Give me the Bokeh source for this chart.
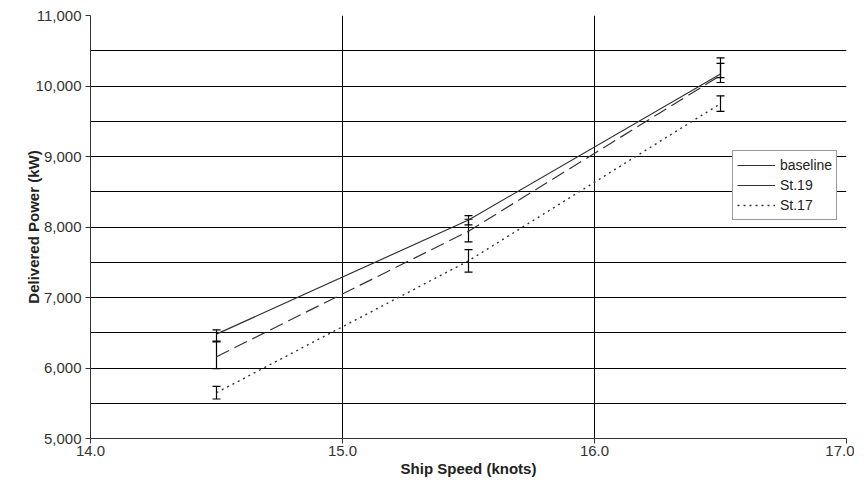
from bokeh.plotting import figure
from bokeh.models import (ColumnDataSource, Whisker, TeeHead, FixedTicker, NumeralTickFormatter,
                          Legend, LegendItem, Range1d)
from bokeh.embed import file_html
from bokeh.resources import INLINE

speed = [14.5, 15.5, 16.5]
baseline = [6480, 8100, 10170]
baseline_lo = [6380, 8030, 10120]
baseline_hi = [6540, 8160, 10400]
st19 = [6160, 7940, 10150]
st19_lo = [5990, 7790, 10050]
st19_hi = [6370, 8110, 10320]
st17 = [5650, 7520, 9750]
st17_lo = [5560, 7360, 9640]
st17_hi = [5740, 7680, 9860]

x_ticks = [14.0, 15.0, 16.0, 17.0]
y_ticks = [5000, 6000, 7000, 8000, 9000, 10000, 11000]
y_grid = [5000, 5500, 6000, 6500, 7000, 7500, 8000, 8500, 9000, 9500, 10000, 10500, 11000]

FONT = "Liberation Sans"
INK = "#222222"

p = figure(frame_width=756, frame_height=423, output_backend="svg", toolbar_location=None,
           x_range=Range1d(14.0, 17.0), y_range=Range1d(5000, 11000),
           min_border_left=90, min_border_top=15, min_border_right=8, min_border_bottom=44)
p.outline_line_color = None
p.background_fill_color = "white"

p.xaxis.ticker = FixedTicker(ticks=x_ticks)
p.yaxis.ticker = FixedTicker(ticks=y_ticks)
p.xgrid.ticker = FixedTicker(ticks=x_ticks)
p.ygrid.ticker = FixedTicker(ticks=y_grid)
p.xaxis.formatter = NumeralTickFormatter(format="0.0")
p.yaxis.formatter = NumeralTickFormatter(format="0,0")
for g in (p.xgrid, p.ygrid):
    g.grid_line_color = "black"
    g.grid_line_width = 1
    g.grid_line_alpha = 1.0

for ax in (p.xaxis, p.yaxis):
    ax.axis_line_color = "#333333"
    ax.major_tick_line_color = "#333333"
    ax.major_tick_out = 5
    ax.major_tick_in = 0
    ax.minor_tick_line_color = None
    ax.major_label_text_font = FONT
    ax.major_label_text_font_size = "15px"
    ax.major_label_text_color = "#333333"
    ax.axis_label_text_font = FONT
    ax.axis_label_text_font_style = "bold"
    ax.axis_label_text_color = INK
p.xaxis.axis_label = "Ship Speed (knots)"
p.yaxis.axis_label = "Delivered Power (kW)"
p.xaxis.axis_label_text_font_size = "15px"
p.yaxis.axis_label_text_font_size = "15px"
p.xaxis.major_label_standoff = 2
p.xaxis.axis_label_standoff = 1
p.yaxis.major_label_standoff = 4
p.yaxis.axis_label_standoff = -9

r1 = p.line(speed, baseline, line_color="#333333", line_width=1.2)
r2 = p.line(speed, st19, line_color="#333333", line_width=1.2, line_dash="14 6")
r3 = p.line(speed, st17, line_color="#333333", line_width=1.4, line_dash="2 4")

for lo, hi in ((baseline_lo, baseline_hi), (st19_lo, st19_hi), (st17_lo, st17_hi)):
    src = ColumnDataSource(dict(base=speed, lower=lo, upper=hi))
    w = Whisker(source=src, base="base", lower="lower", upper="upper", line_color="black",
                line_width=1.2,
                upper_head=TeeHead(size=8, line_color="black", line_width=1.2),
                lower_head=TeeHead(size=8, line_color="black", line_width=1.2))
    p.add_layout(w)

# legend swatch for St.19 is drawn solid in the reference (invisible helper line)
r2_leg = p.line(speed[:1], [float("nan")], line_color="#333333", line_width=1.2)

legend = Legend(items=[LegendItem(label="baseline", renderers=[r1]),
                       LegendItem(label="St.19", renderers=[r2_leg]),
                       LegendItem(label="St.17", renderers=[r3])],
                location=(642, 218), orientation="vertical")
legend.label_text_font = FONT
legend.label_text_font_size = "14px"
legend.label_text_color = INK
legend.border_line_color = "#333333"
legend.border_line_width = 1
legend.background_fill_color = "white"
legend.background_fill_alpha = 1.0
legend.padding = 4
legend.spacing = 0
legend.margin = 0
legend.glyph_width = 38
legend.glyph_height = 20
legend.label_height = 20
legend.label_standoff = 5
p.add_layout(legend, "center")

open("out.html", "w").write(file_html(p, INLINE))
